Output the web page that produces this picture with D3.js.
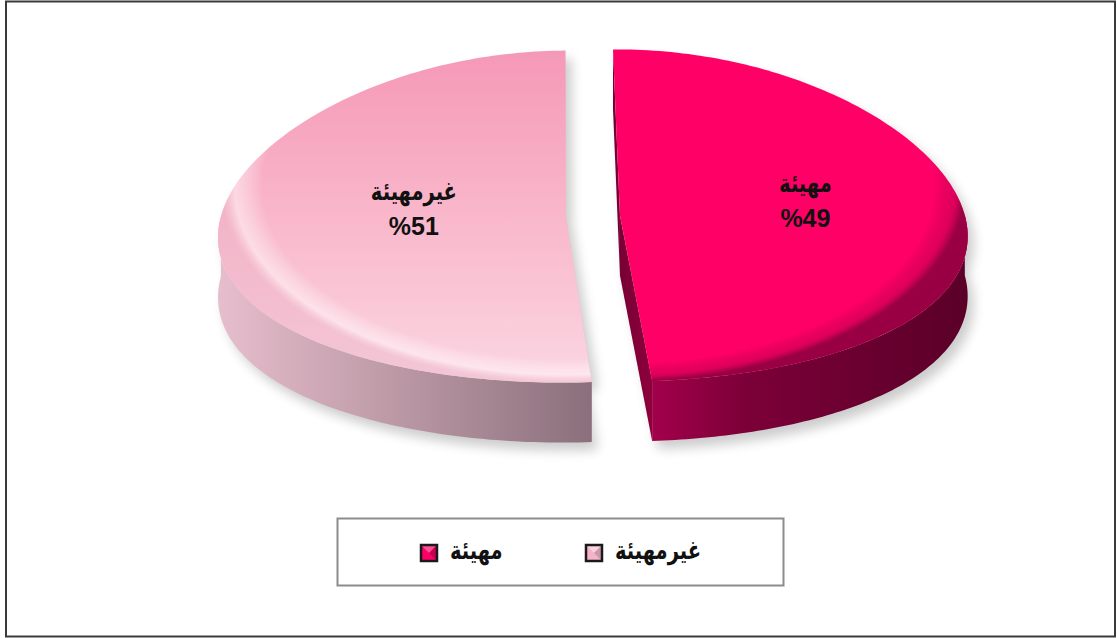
<!DOCTYPE html>
<html><head><meta charset="utf-8">
<script src="https://cdn.jsdelivr.net/npm/d3@7"></script>
<style>body{margin:0;background:#fff;} svg{display:block;}</style>
</head><body>
<svg id="chart" width="1117" height="638"></svg>
<script>
// ---- data ----
const categories = ["مهيئة", "غيرمهيئة"];
const values = [49, 51];
const valueLabels = ["%49", "%51"];
const legendOrder = ["مهيئة", "غيرمهيئة"]; // left to right in legend

const W = 1117, H = 638;
const svg = d3.select("#chart");
const deg = Math.PI / 180;
const FONT = "'Liberation Sans', Arial, 'DejaVu Sans', sans-serif";
const AR_FONT = "'DejaVu Sans', sans-serif";

const pie = d3.pie().sort(null).startAngle(-0.7 * deg).endAngle(359.3 * deg);
const arcs = pie(values);

const cx = 593, cy = 216, rx = 345, ry = 166, depth = 60, k = 0.12, explode = 27 / 345;
function proj(x, z, yOff) {
  const s = 1 - k * z;
  return [cx + x * rx * s, cy - z * ry + yOff];
}
function rimPts(o, a0, a1, yOff, n) {
  const pts = [];
  for (let i = 0; i <= n; i++) {
    const a = a0 + (a1 - a0) * i / n;
    pts.push(proj(o[0] + Math.sin(a), o[1] + Math.cos(a), yOff));
  }
  return pts;
}
const line = d3.line().curve(d3.curveLinear);

const defs = svg.append("defs");
const f = defs.append("filter").attr("id", "shadow").attr("x", "-20%").attr("y", "-20%").attr("width", "140%").attr("height", "140%");
f.append("feGaussianBlur").attr("stdDeviation", 6);

function addStops(g, stops) {
  stops.forEach(s => g.append("stop").attr("offset", s[0]).attr("stop-color", s[1]).attr("stop-opacity", s[2] == null ? 1 : s[2]));
}
function linGrad(id, x1, y1, x2, y2, stops) {
  const g = defs.append("linearGradient").attr("id", id).attr("gradientUnits", "userSpaceOnUse")
    .attr("x1", x1).attr("y1", y1).attr("x2", x2).attr("y2", y2);
  addStops(g, stops);
}
function rimGrad(id, c, stops) {
  const up = 30, rY = ry + up;
  const g = defs.append("radialGradient").attr("id", id).attr("gradientUnits", "userSpaceOnUse")
    .attr("cx", 0).attr("cy", 0).attr("r", rx)
    .attr("gradientTransform", `translate(${c[0]},${c[1] - up}) scale(1,${rY / rx})`);
  addStops(g, stops);
}

// frame
svg.append("rect").attr("x", 6).attr("y", 1.5).attr("width", 1109).attr("height", 635)
  .attr("fill", "#fff").attr("stroke", "#3a3a3a").attr("stroke-width", 2);

const slices = arcs.map((d, i) => {
  const m = (d.startAngle + d.endAngle) / 2;
  const o = [explode * Math.sin(m), explode * Math.cos(m)];
  return { d, i, o, m, cat: categories[i] };
});

// shadows
const shadowG = svg.append("g").attr("filter", "url(#shadow)").attr("opacity", 0.2).attr("transform", "translate(6,8)");
slices.forEach(s => {
  const top = rimPts(s.o, s.d.startAngle, s.d.endAngle, 0, 120);
  const bot = rimPts(s.o, s.d.startAngle, s.d.endAngle, depth, 120);
  shadowG.append("path").attr("d", line([proj(s.o[0], s.o[1], depth), ...bot]) + "Z").attr("fill", "#000");
  shadowG.append("path").attr("d", line([proj(s.o[0], s.o[1], 0), ...top]) + "Z").attr("fill", "#000");
});

linGrad("side0", 650, 0, 968, 0, [[0, "#A3004B"], [0.3, "#7C0038"], [1, "#5A0028"]]);
linGrad("cut0", 600, 0, 660, 0, [[0, "#6A002E"], [1, "#93003F"]]);
linGrad("side1", 221, 0, 592, 0, [[0, "#E6BDCC"], [0.45, "#BE9AA7"], [1, "#8A707C"]]);
linGrad("cut1", 550, 0, 590, 0, [[0, "#F7C6D6"], [1, "#E8AFC2"]]);
linGrad("top1", 0, 50, 0, 382, [[0, "#F598B7"], [0.5, "#F9B7CB"], [1, "#FBD6E2"]]);

const g = svg.append("g");
slices.forEach(s => {
  const sg = g.append("g").attr("class", "slice");
  const c0 = proj(s.o[0], s.o[1], 0), c1 = proj(s.o[0], s.o[1], depth);
  [s.d.startAngle, s.d.endAngle].forEach(a => {
    const r0 = proj(s.o[0] + Math.sin(a), s.o[1] + Math.cos(a), 0);
    const r1 = proj(s.o[0] + Math.sin(a), s.o[1] + Math.cos(a), depth);
    sg.append("path").attr("d", line([c0, r0, r1, c1]) + "Z").attr("fill", `url(#cut${s.i})`);
  });
  const lo = Math.max(s.d.startAngle, 90 * deg), hi = Math.min(s.d.endAngle, 270 * deg);
  if (hi > lo) {
    const t = rimPts(s.o, lo, hi, 0, 100);
    const b = rimPts(s.o, lo, hi, depth, 100).reverse();
    sg.append("path").attr("d", line([...t, ...b]) + "Z").attr("fill", `url(#side${s.i})`);
  }
  const topD = line([c0, ...rimPts(s.o, s.d.startAngle, s.d.endAngle, 0, 160)]) + "Z";
  if (s.i === 0) {
    sg.append("path").attr("d", topD).attr("fill", "#FF0066");
    rimGrad("rim0", c0, [[0, "#8A0038", 0], [0.91, "#8A0038", 0], [0.97, "#B0004A", 0.4], [1.0, "#80003A", 0.8]]);
    sg.append("path").attr("d", topD).attr("fill", "url(#rim0)");
  } else {
    sg.append("path").attr("d", topD).attr("fill", "url(#top1)");
    rimGrad("rim1", c0, [[0, "#ffffff", 0], [0.88, "#ffffff", 0], [0.96, "#FFF2F6", 0.6], [1, "#E8B0C3", 0.4]]);
    sg.append("path").attr("d", topD).attr("fill", "url(#rim1)");
  }
});

function arabicText(sel, x, y, anchor, txt) {
  return sel.append("text")
    .attr("transform", `translate(${x},${y}) scale(0.75,1)`)
    .attr("text-anchor", anchor).attr("font-family", AR_FONT)
    .attr("font-weight", "bold").attr("font-size", 26).attr("fill", "#111").text(txt);
}

// data labels
const labelR = [0.54, 0.44];
slices.forEach(s => {
  const r = labelR[s.i];
  const p = proj(s.o[0] + r * Math.sin(s.m), s.o[1] + r * Math.cos(s.m), 0);
  arabicText(svg, p[0], p[1] - 20, "middle", s.cat);
  svg.append("text").attr("x", p[0]).attr("y", p[1] + 15).attr("text-anchor", "middle")
    .attr("font-family", FONT).attr("font-weight", "bold").attr("font-size", 25).attr("fill", "#111")
    .text(valueLabels[s.i]);
});

// legend
const legend = svg.append("g");
legend.append("rect").attr("x", 337.5).attr("y", 518.5).attr("width", 446).attr("height", 67)
  .attr("fill", "#fff").attr("stroke", "#8c8c8c").attr("stroke-width", 2);
const lx = d3.scalePoint().domain(legendOrder).range([421, 586]);
const legColors = { "مهيئة": ["#FF0066", "#FF6FA6", "#8E0040"], "غيرمهيئة": ["#F4B3C8", "#FCE0EA", "#9D7F8A"] };
legendOrder.forEach(cat => {
  const x = lx(cat), y = 545;
  const c = legColors[cat];
  const it = legend.append("g");
  it.append("rect").attr("x", x).attr("y", y).attr("width", 16).attr("height", 16).attr("fill", c[0]);
  it.append("path").attr("d", `M${x},${y}L${x + 16},${y}L${x + 8},${y + 8}Z`).attr("fill", c[1]).attr("opacity", 0.7);
  it.append("path").attr("d", `M${x + 16},${y}L${x + 16},${y + 16}L${x + 8},${y + 8}Z`).attr("fill", c[2]).attr("opacity", 0.5);
  it.append("rect").attr("x", x).attr("y", y).attr("width", 16).attr("height", 16).attr("fill", "none")
    .attr("stroke", "#1a1a1a").attr("stroke-width", 2.5);
  arabicText(it, x + 29, y + 14, "start", cat);
});
</script>
</body></html>
